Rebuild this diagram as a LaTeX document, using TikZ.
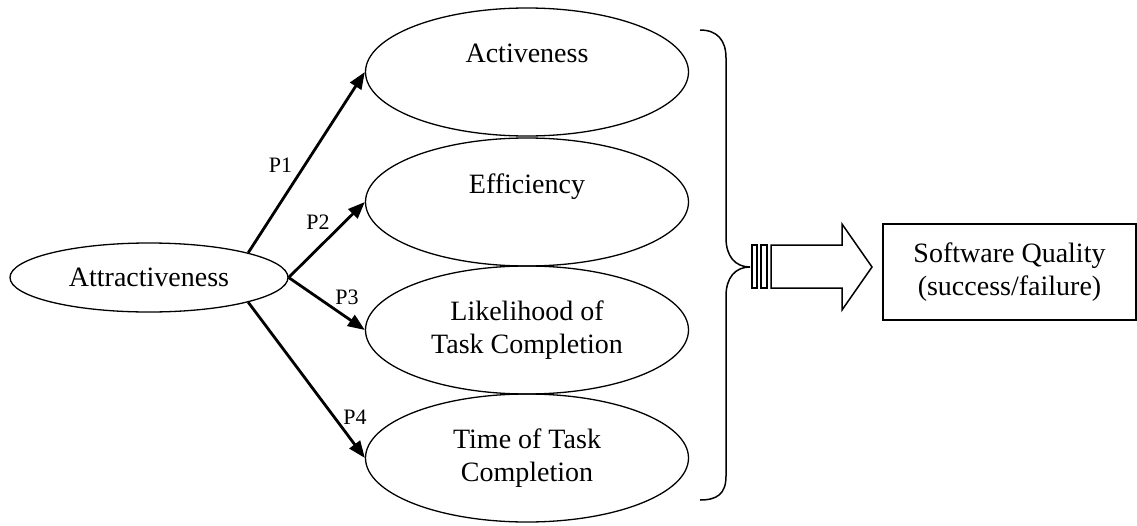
\documentclass[tikz,border=0pt]{standalone}
\usepackage{fontspec}
\setmainfont{Liberation Serif}
\usetikzlibrary{shapes.geometric,arrows.meta}
\tikzset{
  oval/.style={ellipse, draw, line width=1.3pt, inner sep=0pt, align=center,
    font=\fontsize{28}{32.5}\selectfont},
  bigoval/.style={oval, minimum width=323pt, minimum height=128pt},
  conn/.style={line width=2.8pt, -{Triangle[length=17pt,width=13pt]}},
  plabel/.style={font=\fontsize{22}{25}\selectfont, inner sep=0pt},
  outline/.style={line width=1.5pt, line join=miter},
  qbox/.style={draw, line width=1.6pt, rectangle, inner sep=0pt, align=center,
    minimum width=253pt, minimum height=96pt, font=\fontsize{28}{32.5}\selectfont}
}
\begin{document}
\begin{tikzpicture}[x=1pt,y=-1pt]
\useasboundingbox (0,0) rectangle (1137,525);

\node[oval, minimum width=278pt, minimum height=69pt] (att) at (149,277.5) {Attractiveness};

\node[bigoval] (act) at (527,72)  {Activeness\\[5pt]\mbox{}};
\node[bigoval] (eff) at (527,202) {Efficiency\\[5pt]\mbox{}};
\node[bigoval] (lik) at (527,330) {Likelihood of\\Task Completion};
\node[bigoval] (tim) at (527,458) {Time of Task\\Completion};

\draw[conn] (att.14) -- (act.west);
\draw[conn] (att.east) -- (eff.west);
\draw[conn] (att.east) -- (lik.west);
\draw[conn] (att.-14) -- (tim.west);

\node[plabel] (p1) at (280.5,165) {P1};
\node[plabel] (p2) at (318,222) {P2};
\node[plabel] (p3) at (347,297) {P3};
\node[plabel] (p4) at (355,417) {P4};

% brace
\draw[outline] (700,30) .. controls (717,30) and (726,40) .. (726,58)
  -- (726,238) .. controls (726,256) and (735,267) .. (750,267)
  .. controls (735,267) and (726,278) .. (726,296)
  -- (726,476) .. controls (726,494) and (717,500) .. (700,500);

% striped block arrow
\draw[outline, fill=white] (752,245) rectangle (757,288);
\draw[outline, fill=white] (761,245) rectangle (767,288);
\draw[outline] (771,245) -- (842,245) -- (842,224) -- (872,267)
  -- (842,310) -- (842,288) -- (771,288) -- cycle;

\node[qbox] (sq) at (1009.5,272) {Software Quality\\(success/failure)};
\end{tikzpicture}
\end{document}
